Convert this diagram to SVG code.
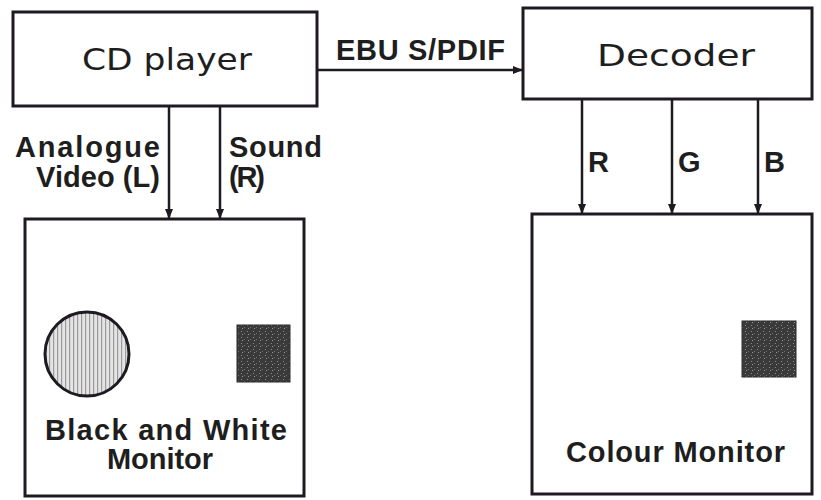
<svg xmlns="http://www.w3.org/2000/svg" width="821" height="500" viewBox="0 0 821 500">
<style>
.box{fill:#fff;stroke:#1e1a22;stroke-width:3}
.conn{stroke:#1e1a22;stroke-width:2.5;fill:none;marker-end:url(#arr)}
.big{font-family:"DejaVu Sans",sans-serif;font-size:30px;fill:#1e1e1e}
.lbl{font-family:"Liberation Sans",Arial,sans-serif;font-weight:bold;font-size:29px;fill:#1e1e1e}
.scr{fill:url(#noise);stroke:#2a2a2a;stroke-width:1}
</style>
<defs>
<marker id="arr" markerWidth="10" markerHeight="10" refX="9" refY="5" orient="auto" markerUnits="userSpaceOnUse">
<path d="M0,1 L10,5 L0,9 Z" fill="#1e1a22"/>
</marker>
<pattern id="lines" width="4" height="4" patternUnits="userSpaceOnUse">
<rect width="4" height="4" fill="#e4e4e4"/>
<rect x="1" width="1.2" height="4" fill="#9a9a9a"/>
</pattern>
<pattern id="noise" width="6" height="6" patternUnits="userSpaceOnUse">
<rect width="6" height="6" fill="#3a3a3a"/>
<rect x="1" y="1" width="1" height="1" fill="#8a8a8a"/>
<rect x="4" y="3" width="1" height="1" fill="#707070"/>
<rect x="2" y="4" width="1" height="1" fill="#9a9a9a"/>
</pattern>
</defs>
<rect width="821" height="500" fill="#fff"/>

<g id="cd-player">
<rect class="box" x="13" y="12" width="304" height="94"/>
<text class="big" x="167" y="70" text-anchor="middle" textLength="170" lengthAdjust="spacingAndGlyphs">CD player</text>
</g>

<g id="decoder">
<rect class="box" x="523" y="8" width="289" height="91"/>
<text class="big" x="676" y="66" text-anchor="middle" textLength="158" lengthAdjust="spacingAndGlyphs">Decoder</text>
</g>

<g id="bw-monitor">
<rect class="box" x="25" y="219" width="279" height="277"/>
<circle cx="87" cy="354" r="42" fill="url(#lines)" stroke="#1e1a22" stroke-width="3"/>
<rect class="scr" x="237" y="325" width="53" height="57"/>
<text class="lbl" x="45" y="440" textLength="242" lengthAdjust="spacing">Black and White</text>
<text class="lbl" x="160" y="469" text-anchor="middle" textLength="106" lengthAdjust="spacing">Monitor</text>
</g>

<g id="colour-monitor">
<rect class="box" x="532" y="214" width="280" height="280"/>
<rect class="scr" x="742" y="321" width="54" height="56"/>
<text class="lbl" x="566" y="462" textLength="219" lengthAdjust="spacing">Colour Monitor</text>
</g>

<g id="connectors">
<line class="conn" x1="317" y1="70" x2="522" y2="70"/>
<line class="conn" x1="169" y1="106" x2="169" y2="218"/>
<line class="conn" x1="220" y1="106" x2="220" y2="218"/>
<line class="conn" x1="582" y1="99" x2="582" y2="213"/>
<line class="conn" x1="672" y1="99" x2="672" y2="213"/>
<line class="conn" x1="758" y1="99" x2="758" y2="213"/>
<text class="lbl" x="336" y="60" textLength="169" lengthAdjust="spacing">EBU S/PDIF</text>
<text class="lbl" x="15" y="157" textLength="145" lengthAdjust="spacing">Analogue</text>
<text class="lbl" x="36" y="187" textLength="124" lengthAdjust="spacing">Video (L)</text>
<text class="lbl" x="229" y="157" textLength="93" lengthAdjust="spacing">Sound</text>
<text class="lbl" x="229" y="187" textLength="36" lengthAdjust="spacing">(R)</text>
<text class="lbl" x="588" y="172">R</text>
<text class="lbl" x="678" y="172">G</text>
<text class="lbl" x="764" y="172">B</text>
</g>
</svg>
